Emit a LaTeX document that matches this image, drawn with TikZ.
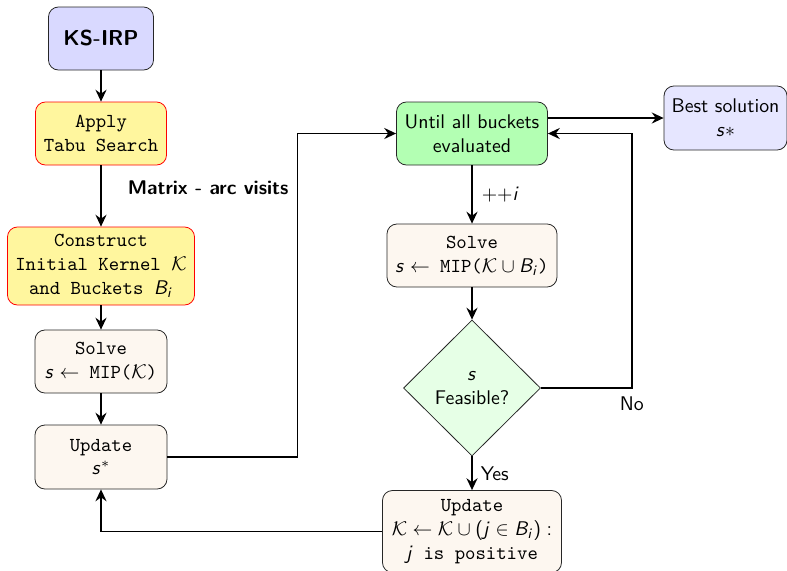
\documentclass[tikz,border=0pt]{standalone}
\usetikzlibrary{shapes.geometric,arrows.meta}
\renewcommand{\familydefault}{\sfdefault}
% sans-serif letters in formulas
\DeclareSymbolFont{sfit}{OT1}{cmss}{m}{sl}
\DeclareSymbolFont{sfup}{OT1}{cmss}{m}{n}
\DeclareMathSymbol{s}{\mathalpha}{sfit}{`s}
\DeclareMathSymbol{B}{\mathalpha}{sfit}{`B}
\DeclareMathSymbol{i}{\mathalpha}{sfit}{`i}
\DeclareMathSymbol{j}{\mathalpha}{sfit}{`j}
\DeclareMathSymbol{+}{\mathbin}{sfup}{`+}
\DeclareMathSymbol{(}{\mathopen}{sfup}{`(}
\DeclareMathSymbol{)}{\mathclose}{sfup}{`)}
\DeclareMathSymbol{:}{\mathrel}{sfup}{`:}
% one drawing unit
\def\pxu{0.505pt}
\definecolor{startfill}{RGB}{217,217,255}
\definecolor{bestfill}{RGB}{230,230,255}
\definecolor{tabufill}{RGB}{255,246,158}
\definecolor{workfill}{RGB}{253,247,240}
\definecolor{loopfill}{RGB}{179,255,179}
\definecolor{testfill}{RGB}{230,255,230}
\begin{document}
\begin{tikzpicture}[x=\pxu, y=-\pxu,
  >={Stealth[length=6pt,width=5.6pt,inset=2pt]},
  boxbase/.style={draw=black!85, rounded corners=5pt, align=center, inner sep=1pt},
  startbox/.style={boxbase, fill=startfill, font=\fontsize{10.9}{13}\selectfont\bfseries},
  tabubox/.style={boxbase, draw=red, fill=tabufill, font=\ttfamily},
  workbox/.style={boxbase, fill=workfill, font=\ttfamily},
  loopbox/.style={boxbase, fill=loopfill},
  bestbox/.style={boxbase, fill=bestfill},
  testbox/.style={draw=black!85, diamond, aspect=1, inner sep=0pt, fill=testfill, align=center},
  flow/.style={->, thick},
  lbl/.style={inner sep=0pt}
]
\useasboundingbox (0,0) rectangle (787,570);

% left column
\node[startbox, minimum width=105*\pxu, minimum height=63*\pxu] (ks) at (101,38.5) {KS-IRP};
\node[tabubox, minimum width=131*\pxu, minimum height=63*\pxu] (tabu) at (101,133.5) {Apply\\Tabu Search};
\node[tabubox, minimum width=187*\pxu, minimum height=78*\pxu] (cons) at (101,266) {Construct\\Initial Kernel $\mathcal{K}$\\and Buckets $B_i$};
\node[workbox, minimum width=132*\pxu, minimum height=63*\pxu] (solveA) at (101,361.5) {Solve\\$s\leftarrow$ MIP($\mathcal{K}$)};
\node[workbox, minimum width=132*\pxu, minimum height=64*\pxu] (updA) at (101,457) {Update\\$s^*$};

% right column
\node[loopbox, minimum width=151*\pxu, minimum height=63*\pxu] (until) at (472,133.5) {Until all buckets\\evaluated};
\node[bestbox, minimum width=123*\pxu, minimum height=64*\pxu] (best) at (725.5,118) {Best solution\\$s*$};
\node[workbox, minimum width=170*\pxu, minimum height=63*\pxu] (solveB) at (472,255.5) {Solve\\$s\leftarrow$ MIP($\mathcal{K}\cup B_i$)};
\node[testbox, minimum width=137*\pxu, minimum height=136*\pxu] (feas) at (472,388) {$s$\\Feasible?};
\node[workbox, minimum width=179*\pxu, minimum height=82*\pxu] (updB) at (472,531.5) {Update\\$\mathcal{K}\leftarrow\mathcal{K}\cup(j\in B_i):$\\$j$ is positive};

% connectors
\draw[flow] (ks) -- (tabu);
\draw[flow] (tabu) -- node[lbl, pos=0.37, anchor=west, xshift=26*\pxu, font=\bfseries] {Matrix - arc visits} (cons);
\draw[flow] (cons) -- (solveA);
\draw[flow] (solveA) -- (updA);
\draw[flow] (updA.east) -- ++(130,0) |- (until.west);
\draw[flow] (until.east |- best.west) -- (best.west);
\draw[flow] (until) -- node[lbl, anchor=west, xshift=9*\pxu] {${+}{+}i$} (solveB);
\draw[flow] (solveB) -- (feas);
\draw[flow] (feas.east) -- ++(91,0) coordinate (nobend) |- (until.east);
\node[lbl, anchor=north, yshift=-8*\pxu] (nolbl) at (nobend) {No};
\draw[flow] (feas) -- node[lbl, anchor=west, xshift=8*\pxu] {Yes} (updB);
\draw[flow] (updB.west) -| (updA.south);
\end{tikzpicture}
\end{document}
